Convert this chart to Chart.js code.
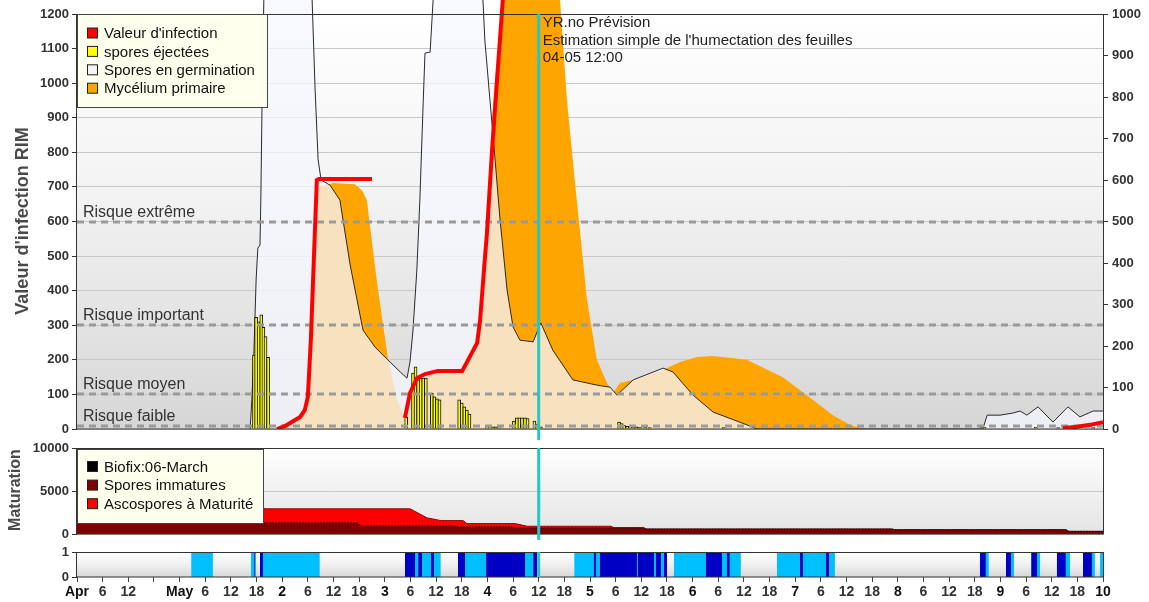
<!DOCTYPE html>
<html>
<head>
<meta charset="utf-8">
<script src="https://cdn.jsdelivr.net/npm/chart.js@4.4.0/dist/chart.umd.min.js"></script>
<style>
html, body { margin: 0; padding: 0; background: #fff; width: 1149px; height: 602px; overflow: hidden; }
canvas { position: absolute; left: 0; }
#main { top: 0; }
#mat { top: 440px; }
#wet { top: 540px; }
</style>
</head>
<body>
<canvas id="main" width="1149" height="440"></canvas>
<canvas id="mat" width="1149" height="100"></canvas>
<canvas id="wet" width="1149" height="62"></canvas>
<script>
// all x values are hours from the start of the window (10 days = 240 h)

const xLabels = ['Apr','6','12','','May','6','12','18','2','6','12','18','3','6','12','18','4','6','12','18',
  '5','6','12','18','6','6','12','18','7','6','12','18','8','6','12','18','9','6','12','18','10'];
const rimTicks = [0,100,200,300,400,500,600,700,800,900,1000,1100,1200];
const rightTicks = [0,100,200,300,400,500,600,700,800,900,1000];
const matTicks = [0, 5000, 10000];

const riskLevels = [600, 300, 100, 10];
const riskLabels = ['Risque extrême', 'Risque important', 'Risque moyen', 'Risque faible'];
const forecastNote = ['YR.no Prévision', "Estimation simple de l'humectation des feuilles", '04-05 12:00'];
const nowHour = 108;

// [hour, RIM]
const germination = [[40.5,0],[40.9,84],[41.4,228],[41.9,431],[42.3,523],[42.8,532],[43.0,662],[43.3,951],[43.7,1240],
  [44.7,1530],[46.3,1800],[52.2,1800],[54.0,1530],[55.0,1240],[55.7,980],[56.4,778],[57.1,720],[59.2,705],[61.5,662],
  [63.9,474],[66.9,286],[69.7,237],[72.7,200],[75.6,165],[77.2,147],[77.9,194],[78.6,286],[79.5,460],[80.2,662],
  [81.0,951],[81.4,1087],[82.6,1090],[83.3,1240],[84.4,1530],[86.1,1674],[91.9,1674],[94.3,1414],[95.4,1125],
  [96.6,951],[97.8,778],[98.9,613],[100.6,402],[102.0,295],[103.6,257],[106.7,252],[107.6,280],[108.5,307],
  [111.3,228],[116.0,142],[121.6,127],[124.7,121],[126.3,98],[130.1,142],[137.1,176],[139.4,165],[144.1,98],
  [148.8,49],[156.7,12],[159.1,0],[211.9,0],[212.9,40],[215.9,40],[218.9,46],[220.6,52],[222.2,40],[224.8,64],
  [228.3,20],[231.8,64],[234.6,35],[237.7,52],[240,52]];

const mycelium = [[46.3,0],[49.8,20],[52.2,40],[53.6,69],[54.5,171],[55.2,373],[55.9,575],[56.6,700],[59.9,711],
  [65.0,708],[66.7,690],[67.8,662],[69.0,540],[70.2,422],[71.6,300],[72.7,208],[74.9,84],[76.7,35],[77.2,12],
  [77.9,69],[79.1,147],[81.4,162],[90.1,165],[91.5,197],[93.6,246],[94.3,301],[95.4,547],[96.6,807],[97.8,1009],
  [98.9,1154],[100.1,1298],[102.5,1472],[106.0,1530],[110.6,1414],[113.0,1240],[114.6,951],[116.9,662],[119.3,373],
  [121.6,200],[124.0,133],[125.4,104],[127.0,133],[131.7,147],[137.1,171],[141.1,194],[145.0,208],[148.8,211],
  [156.7,200],[165.1,150],[169.1,113],[173.1,75],[176.8,40],[180.8,12],[183.9,0]];

const infection = [[46.8,0],[48.7,9],[52.2,35],[53.3,55],[54.0,93],[54.7,257],[55.4,489],[56.1,720],[56.6,723],
  [69.0,723],[69.1,null],[76.7,32],[77.9,104],[79.5,147],[81.4,159],[84.4,168],[90.1,168],[91.5,200],[93.6,249],
  [94.3,315],[95.2,460],[95.9,567],[97.1,807],[98.2,1000],[99.6,1240],[100.8,1330],[101,null],
  [230.6,3],[233.5,6],[237.0,12],[240,20]];

const sporesEjected = [[41.4,214],[41.9,323],[42.5,310],[43.1,330],[43.6,294],[44.1,267],[44.7,207],
  [77.0,35],[78.6,162],[79.2,180],[79.8,142],[80.4,147],[81.0,147],[81.6,147],
  [83.0,104],[83.6,93],[84.2,87],[84.8,84],[89.4,84],[90.0,75],[90.6,64],[91.2,55],[91.8,43],
  [95.9,8],[96.6,8],[97.3,6],[98.0,6],[98.7,8],[102.2,23],[102.9,32],[103.5,32],[104.1,32],[104.8,32],[105.4,30],
  [107.0,23],[107.6,14],[108.5,6],[126.8,20],[127.4,16],[128.0,10],[128.7,8],[129.4,8],[130.1,6],[130.8,6],
  [131.7,5],[132.9,5],[134.0,4],[151.3,4],[211.7,5],[212.3,5],[224.3,5],[229.5,4],[237.7,4]];

// maturation (stacked: immature at the bottom, mature on top)
const matHours = [0,40.5,42.3,44.2,65.5,66.4,77.9,81.9,85.1,88.2,89.1,90.3,91.2,101.5,102.5,105.3,124.9,125.6,
  132.6,133.1,190.6,191.3,231.3,232,240];
const sporesImmature = [1290,1290,1290,1290,1290,977,977,977,977,977,820,820,820,820,700,700,700,700,700,580,
  580,500,500,310,310];
const sporesMature = [2210,2160,1810,1640,1640,1953,1953,898,583,583,740,740,390,390,510,200,200,40,40,0,0,0,0,0,0];

// leaf wetness periods [start hour, end hour]
const wetLight = [[26.7,31.8],[40.7,41.9],[42.8,56.8],[76.7,85.1],[89.1,107.6],[116.3,138.0],[139.6,155.3],
  [163.7,177.3],[211.2,213.3],[217.3,219.2],[223.2,225.3],[229.2,232.3],[235.3,238.1],[239.3,240]];
const wetDark = [[41.4,41.6],[42.8,43.5],[76.7,79.1],[79.8,80.7],[82.8,83.5],[89.1,90.8],[95.7,104.8],
  [106.7,107.6],[120.9,121.4],[122.3,131.0],[131.2,135.0],[135.4,136.6],[137.3,138.0],[147.1,150.9],
  [152.0,152.7],[169.1,169.8],[175.2,175.9],[211.2,212.6],[217.3,218.5],[223.2,224.6],[229.2,231.3],[235.3,237.4]];

const mainLegend = [["Valeur d'infection", '#ff0000'], ['spores éjectées', '#ffff00'],
  ['Spores en germination', '#f4f4f4'], ['Mycélium primaire', '#ffa500']];
const matLegend = [['Biofix:06-March', '#000000'], ['Spores immatures', '#800000'], ['Ascospores à Maturité', '#ff0000']];

const FONT = '"Liberation Sans", Arial, sans-serif';
Chart.defaults.font.family = FONT;
Chart.defaults.color = '#333';

const pts = arr => arr.map(([x, y]) => ({x, y}));
const spans = arr => arr.flatMap(([a, b]) => [{x: a, y: 1}, {x: b, y: 1}, {x: b, y: null}]);
const tickFont = {size: 13, weight: 'bold'};
const plain = v => String(v);

// width forced, and no extra room reserved for the end labels
function fitY(width) {
  return s => { s.width = width; s.paddingTop = 0; s.paddingBottom = 0; };
}

function bgGradient(chart, top, c2) {
  const {ctx, chartArea: a} = chart;
  const g = ctx.createLinearGradient(0, top, 0, a.bottom);
  g.addColorStop(0, '#ffffff');
  g.addColorStop(0.45, '#f2f2f2');
  g.addColorStop(1, c2);
  ctx.save();
  ctx.fillStyle = g;
  ctx.fillRect(a.left, top, a.right - a.left, a.bottom - top);
  ctx.restore();
}

function frame(chart, top) {
  const {ctx, chartArea: a} = chart;
  ctx.save();
  ctx.strokeStyle = '#333';
  ctx.lineWidth = 1;
  ctx.strokeRect(a.left - 0.5, top + 0.5, a.right - a.left + 1, a.bottom - top - 0.5);
  ctx.restore();
}

function cyanLine(chart, y1, y2) {
  const {ctx} = chart;
  const x = chart.scales.x.getPixelForValue(nowHour);
  ctx.save();
  ctx.strokeStyle = '#22c7c7';
  ctx.lineWidth = 3;
  ctx.beginPath();
  ctx.moveTo(x, y1);
  ctx.lineTo(x, y2);
  ctx.stroke();
  ctx.restore();
}

function legendBox(ctx, box, items, firstY, step) {
  ctx.save();
  ctx.fillStyle = '#ffffee';
  ctx.strokeStyle = '#444';
  ctx.lineWidth = 1;
  ctx.fillRect(box[0], box[1], box[2], box[3]);
  ctx.strokeRect(box[0] + 0.5, box[1] + 0.5, box[2], box[3]);
  ctx.font = '15px ' + FONT;
  ctx.textBaseline = 'middle';
  items.forEach(([label, color], i) => {
    const y = firstY + i * step;
    ctx.fillStyle = color;
    ctx.fillRect(box[0] + 10.5, y - 5, 10, 10);
    ctx.strokeStyle = '#222';
    ctx.strokeRect(box[0] + 10.5, y - 5, 10, 10);
    ctx.fillStyle = '#111';
    ctx.fillText(label, box[0] + 27, y + 1);
  });
  ctx.restore();
}

function yTitle(ctx, text, x, y, size) {
  ctx.save();
  ctx.translate(x, y);
  ctx.rotate(-Math.PI / 2);
  ctx.font = 'bold ' + size + 'px ' + FONT;
  ctx.fillStyle = '#4a4a4a';
  ctx.textAlign = 'center';
  ctx.textBaseline = 'middle';
  ctx.fillText(text, 0, 0);
  ctx.restore();
}

const mainDecor = {
  id: 'mainDecor',
  beforeDraw(chart) {
    bgGradient(chart, chart.scales.y.getPixelForValue(1200), '#d6d6d6');
  },
  beforeDatasetDraw(chart, args) {
    if (args.index !== 3) return;
    const {ctx, chartArea: a} = chart;
    ctx.save();
    ctx.strokeStyle = '#9a9a9a';
    ctx.lineWidth = 3;
    ctx.setLineDash([7, 5]);
    ctx.font = '16px ' + FONT;
    ctx.fillStyle = '#333';
    riskLevels.forEach((v, i) => {
      const y = Math.round(chart.scales.y.getPixelForValue(v));
      ctx.beginPath();
      ctx.moveTo(a.left, y);
      ctx.lineTo(a.right, y);
      ctx.stroke();
      ctx.fillText(riskLabels[i], a.left + 6, y - 5);
    });
    ctx.restore();
  },
  afterDatasetsDraw(chart) {
    const {ctx} = chart;
    const top = Math.round(chart.scales.y.getPixelForValue(1200));
    frame(chart, top);
    cyanLine(chart, top, chart.height);
    const x = chart.scales.x.getPixelForValue(nowHour);
    ctx.save();
    ctx.font = '15px ' + FONT;
    ctx.fillStyle = '#222';
    ctx.textBaseline = 'middle';
    forecastNote.forEach((t, i) => ctx.fillText(t, x + 4, 23 + i * 17.5));
    ctx.restore();
    legendBox(ctx, [77, 14, 190, 93], mainLegend, 33, 18.4);
    yTitle(ctx, "Valeur d'infection RIM", 23, 221, 18);
  }
};

new Chart(document.getElementById('main'), {
  type: 'line',
  data: {
    datasets: [
      {label: 'Mycélium primaire', data: pts(mycelium), fill: 'origin', backgroundColor: '#ffa500',
        borderColor: 'rgba(0,0,0,0)', borderWidth: 0, order: 4},
      {label: 'Spores en germination', data: pts(germination), fill: 'origin',
        backgroundColor: 'rgba(246,246,255,0.75)', borderColor: '#2a2a2a', borderWidth: 1, order: 3},
      {type: 'bar', label: 'spores éjectées', data: pts(sporesEjected), backgroundColor: '#ffff00',
        borderColor: '#111', borderWidth: 1, barThickness: 3, order: 2},
      {label: "Valeur d'infection", data: pts(infection), fill: false, borderColor: '#ff0000',
        borderWidth: 4, spanGaps: false, order: 1}
    ]
  },
  options: {
    responsive: false, animation: false, events: [],
    layout: {autoPadding: false, padding: {left: 0, right: 0, top: 0, bottom: 11}},
    elements: {point: {radius: 0}, line: {tension: 0}},
    plugins: {legend: {display: false}, tooltip: {enabled: false}},
    scales: {
      x: {type: 'linear', min: 0, max: 240, display: false, offset: false},
      y: {position: 'left', min: 0, max: 1240.5,
        afterBuildTicks: s => { s.ticks = rimTicks.map(v => ({value: v})); },
        afterFit: fitY(77),
        ticks: {font: tickFont, color: '#333', padding: 3, callback: plain},
        grid: {color: '#c8c8c8', tickColor: '#333', tickLength: 5},
        border: {display: false}},
      y2: {position: 'right', min: 0, max: 1033.75,
        afterBuildTicks: s => { s.ticks = rightTicks.map(v => ({value: v})); },
        afterFit: fitY(46),
        ticks: {font: tickFont, color: '#333', padding: 4, callback: plain},
        grid: {drawOnChartArea: false, tickColor: '#333', tickLength: 5},
        border: {display: false}}
    }
  },
  plugins: [mainDecor]
});

const matDecor = {
  id: 'matDecor',
  beforeDraw(chart) { bgGradient(chart, chart.chartArea.top, '#e4e4e4'); },
  afterDatasetsDraw(chart) {
    frame(chart, chart.chartArea.top);
    cyanLine(chart, chart.chartArea.top, chart.chartArea.bottom + 6);
    legendBox(chart.ctx, [77, 9, 186, 74], matLegend, 26.5, 18.6);
    yTitle(chart.ctx, 'Maturation', 16, 50, 16);
  }
};

new Chart(document.getElementById('mat'), {
  type: 'line',
  data: {
    datasets: [
      {label: 'Ascospores à Maturité', data: matHours.map((h, i) => ({x: h, y: sporesImmature[i] + sporesMature[i]})),
        fill: 'origin', backgroundColor: '#ff0000', borderColor: '#a00000', borderWidth: 1, order: 2},
      {label: 'Spores immatures', data: matHours.map((h, i) => ({x: h, y: sporesImmature[i]})),
        fill: 'origin', backgroundColor: '#800000', borderColor: '#111', borderWidth: 1, borderDash: [2, 1], order: 1}
    ]
  },
  options: {
    responsive: false, animation: false, events: [],
    layout: {autoPadding: false, padding: {left: 0, right: 46, top: 8, bottom: 6}},
    elements: {point: {radius: 0}, line: {tension: 0}},
    plugins: {legend: {display: false}, tooltip: {enabled: false}},
    scales: {
      x: {type: 'linear', min: 0, max: 240, display: false, offset: false},
      y: {min: 0, max: 10000,
        afterBuildTicks: s => { s.ticks = matTicks.map(v => ({value: v})); },
        afterFit: fitY(77),
        ticks: {font: tickFont, color: '#333', padding: 3, callback: plain},
        grid: {color: '#c8c8c8', tickColor: '#333', tickLength: 5},
        border: {display: false}}
    }
  },
  plugins: [matDecor]
});

const wetDecor = {
  id: 'wetDecor',
  beforeDraw(chart) { bgGradient(chart, chart.chartArea.top, '#d8d8d8'); },
  afterDatasetsDraw(chart) {
    frame(chart, chart.chartArea.top);
    cyanLine(chart, chart.chartArea.top, chart.chartArea.bottom);
  }
};

new Chart(document.getElementById('wet'), {
  type: 'line',
  data: {
    datasets: [
      {label: 'humide', data: spans(wetLight), fill: 'origin', backgroundColor: '#00bfff',
        borderWidth: 0, borderColor: 'rgba(0,0,0,0)', spanGaps: false, order: 2},
      {label: 'pluie', data: spans(wetDark), fill: 'origin', backgroundColor: '#0000c4',
        borderWidth: 0, borderColor: 'rgba(0,0,0,0)', spanGaps: false, order: 1}
    ]
  },
  options: {
    responsive: false, animation: false, events: [],
    layout: {autoPadding: false, padding: {left: 0, right: 46, top: 12, bottom: 0}},
    elements: {point: {radius: 0}, line: {tension: 0}},
    plugins: {legend: {display: false}, tooltip: {enabled: false}},
    scales: {
      x: {type: 'linear', min: 0, max: 240, offset: false,
        afterBuildTicks: s => { s.ticks = xLabels.map((_, i) => ({value: i * 6})); },
        afterFit: s => { s.height = 25; },
        ticks: {autoSkip: false, maxRotation: 0, padding: 2,
          callback: (v, i) => xLabels[i],
          color: c => (c.index % 4 === 0 ? '#111' : '#333'),
          font: {size: 14, weight: 'bold'}},
        grid: {drawOnChartArea: false, tickColor: '#444', tickLength: 5},
        border: {display: false}},
      y: {min: 0, max: 1,
        afterBuildTicks: s => { s.ticks = [{value: 0}, {value: 1}]; },
        afterFit: fitY(77),
        ticks: {font: tickFont, color: '#333', padding: 3, callback: plain},
        grid: {drawOnChartArea: false, tickColor: '#333', tickLength: 5},
        border: {display: false}}
    }
  },
  plugins: [wetDecor]
});
</script>
</body>
</html>
